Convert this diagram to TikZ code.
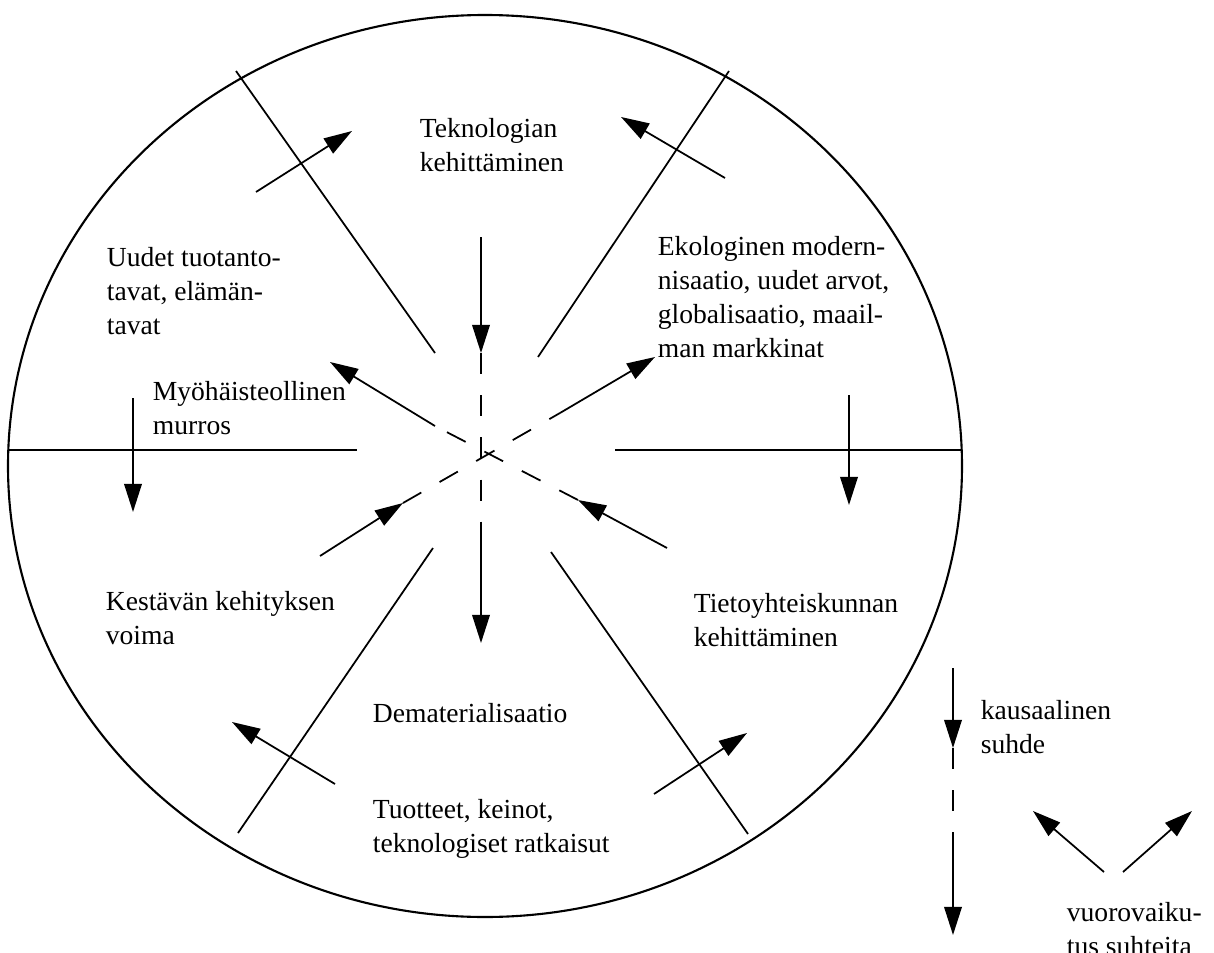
\documentclass[tikz,border=0pt]{standalone}
\usepackage{fontspec}
\setmainfont{Liberation Serif}
\usetikzlibrary{arrows.meta}
\begin{document}
\begin{tikzpicture}[x=0.02cm,y=-0.02cm,line width=1pt,
	every node/.style={align=left,anchor=west,inner sep=0pt,font=\fontsize{15.7}{19.3}\selectfont},
	arr/.style={-{Triangle[length=16pt,width=10pt]}},
	dsh/.style={dash pattern=on 12pt off 12pt}]
		\useasboundingbox (0,0) rectangle (1214,953);
		% ring
		\draw[line width=1.2pt] (485,466) ellipse [x radius=477, y radius=451];
		% separators
		\coordinate (s1a) at (236,71);  \coordinate (s1b) at (435,353);
		\coordinate (s2a) at (729,71);  \coordinate (s2b) at (538,357);
		\coordinate (s3a) at (9,450);   \coordinate (s3b) at (357,450);
		\coordinate (s4a) at (615,450); \coordinate (s4b) at (962,450);
		\coordinate (s5a) at (433,548); \coordinate (s5b) at (238,833);
		\coordinate (s6a) at (551,552); \coordinate (s6b) at (748,834);
		\draw (s1a)--(s1b);
		\draw (s2a)--(s2b);
		\draw (s3a)--(s3b);
		\draw (s4a)--(s4b);
		\draw (s5a)--(s5b);
		\draw (s6a)--(s6b);
		% causal lines through the middle
		\coordinate (v0) at (481,237); \coordinate (v1) at (481,353);
		\coordinate (v2) at (481,522); \coordinate (v3) at (481,643);
		\draw[arr] (v0)--(v1);
		\draw[dsh] (v1)--(v2);
		\draw[arr] (v2)--(v3);
		\coordinate (a0) at (667,548); \coordinate (a1) at (578,500);
		\coordinate (a2) at (435,426); \coordinate (a3) at (330,362);
		\draw[arr] (a0)--(a1);
		\draw[dsh] (a1)--(a2);
		\draw[arr] (a2)--(a3);
		\coordinate (b0) at (320,556); \coordinate (b1) at (403,503);
		\coordinate (b2) at (560,413); \coordinate (b3) at (655,357);
		\draw[arr] (b0)--(b1);
		\draw[dsh] (b1)--(b2);
		\draw[arr] (b2)--(b3);
		% interaction arrows
		\coordinate (i1) at (256,192); \coordinate (j1) at (352,131);
		\coordinate (i2) at (725,178); \coordinate (j2) at (621,117);
		\coordinate (i3) at (335,784); \coordinate (j3) at (232,722);
		\coordinate (i4) at (654,794); \coordinate (j4) at (747,733);
		\coordinate (i5) at (133,398); \coordinate (j5) at (133,512);
		\coordinate (i6) at (849,395); \coordinate (j6) at (849,505);
		\foreach \k in {1,...,6}
			\draw[arr] (i\k)--(j\k);
		% texts
		\node (tek) at (419,145) {Teknologian\\kehittäminen};
		\node (uud) at (106,291) {Uudet tuotanto-\\tavat, elämän-\\tavat};
		\node (eko) at (657,297) {Ekologinen modern-\\nisaatio, uudet arvot,\\globalisaatio, maail-\\man markkinat};
		\node (myo) at (152,408) {Myöhäisteollinen\\murros};
		\node (kes) at (105,618) {Kestävän kehityksen\\voima};
		\node (tie) at (693,620) {Tietoyhteiskunnan\\kehittäminen};
		\node (dem) at (372,713) {Dematerialisaatio};
		\node (tuo) at (372,829) {Tuotteet, keinot,\\teknologiset ratkaisut};
		% legend
		\coordinate (l0) at (953,668); \coordinate (l1) at (953,748);
		\coordinate (l2) at (953,842); \coordinate (l3) at (953,935);
		\draw[arr] (l0)--(l1);
		\draw[dsh] (l1)--(l2);
		\draw[arr] (l2)--(l3);
		\node (kau) at (980,727) {kausaalinen\\suhde};
		\coordinate (m0) at (1104,872); \coordinate (m1) at (1033,811);
		\coordinate (n0) at (1123,872); \coordinate (n1) at (1192,811);
		\draw[arr] (m0)--(m1);
		\draw[arr] (n0)--(n1);
		\node (vuo) at (1066,929) {vuorovaiku-\\tus suhteita};
\end{tikzpicture}
\end{document}
